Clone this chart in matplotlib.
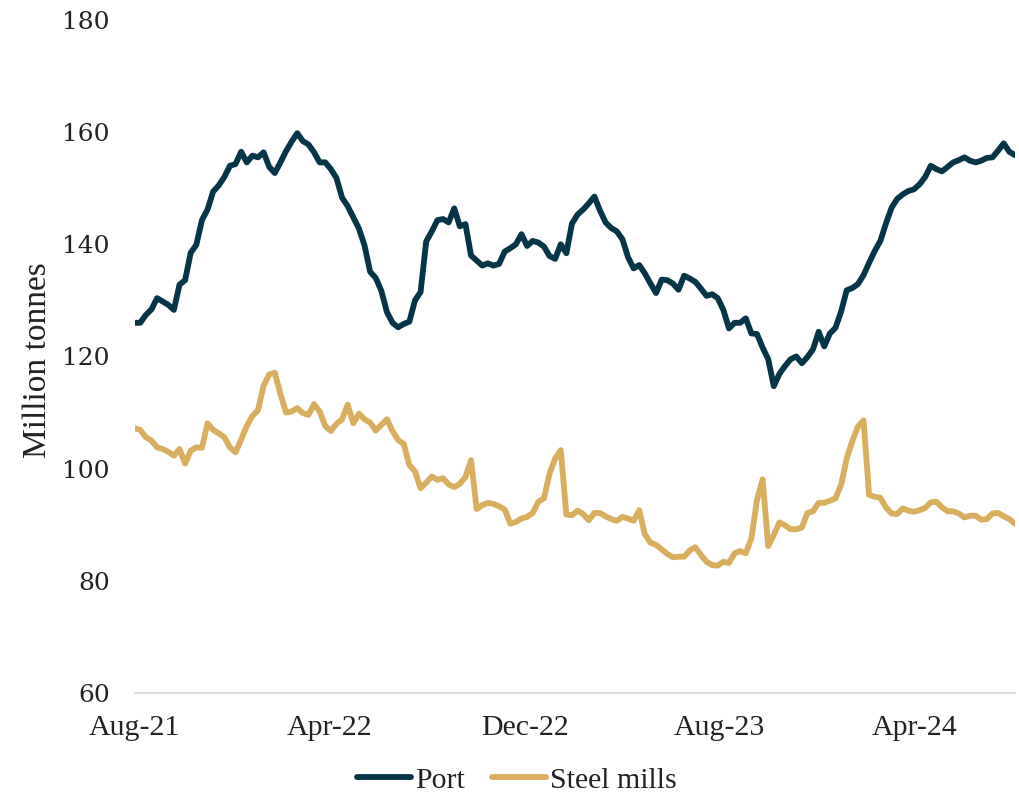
import matplotlib.pyplot as plt
import matplotlib.dates as mdates
import pandas as pd

# Datos semanales (millones de toneladas)
fechas = pd.date_range('2021-08-01', periods=158, freq='W-SUN')

puerto = [
    126.0, 126.0, 127.4, 128.4, 130.4, 129.8, 129.2, 128.3, 132.8, 133.6,
    138.5, 139.9, 144.3, 146.2, 149.4, 150.5, 152.0, 154.0, 154.3, 156.5,
    154.6, 155.8, 155.5, 156.4, 153.8, 152.7, 154.6, 156.6, 158.3, 159.8,
    158.4, 157.8, 156.4, 154.6, 154.6, 153.4, 151.8, 148.3, 146.8, 144.8,
    142.8, 139.8, 135.1, 134.0, 131.7, 127.9, 126.0, 125.2, 125.8, 126.2,
    130.0, 131.5, 140.5, 142.3, 144.3, 144.5, 143.9, 146.4, 143.2, 143.6,
    138.0, 137.1, 136.2, 136.6, 136.2, 136.5, 138.7, 139.3, 140.0, 141.8,
    139.7, 140.6, 140.3, 139.6, 137.9, 137.4, 140.0, 138.4, 143.7, 145.3,
    146.2, 147.3, 148.5, 146.0, 143.9, 142.9, 142.3, 140.9, 137.7, 135.7,
    136.3, 134.8, 133.0, 131.3, 133.7, 133.6, 133.0, 131.9, 134.4, 133.9,
    133.3, 132.1, 130.8, 131.1, 130.4, 128.3, 125.0, 126.0, 126.0, 126.8,
    124.1, 124.0, 121.6, 119.5, 114.7, 116.9, 118.3, 119.5, 120.0, 118.8,
    119.9, 121.3, 124.4, 121.8, 124.1, 125.1, 128.0, 131.8, 132.2, 132.9,
    134.5, 136.7, 138.8, 140.6, 143.7, 146.5, 148.1, 148.9, 149.5, 149.8,
    150.7, 152.0, 154.0, 153.4, 153.0, 153.8, 154.6, 155.0, 155.5, 154.9,
    154.6, 154.9, 155.4, 155.5, 156.7, 158.0, 156.5, 155.9,
]

acerias = [
    107.2, 106.9, 105.6, 105.0, 103.8, 103.5, 103.0, 102.3, 103.5, 100.9,
    103.2, 103.8, 103.7, 108.1, 106.9, 106.3, 105.6, 103.8, 102.9, 105.2,
    107.6, 109.4, 110.4, 114.8, 116.8, 117.1, 113.3, 110.0, 110.2, 110.8,
    109.9, 109.6, 111.5, 110.2, 107.6, 106.7, 108.0, 108.8, 111.4, 108.1,
    109.8, 108.8, 108.2, 106.8, 107.8, 108.8, 106.7, 105.1, 104.4, 100.6,
    99.5, 96.5, 97.5, 98.6, 98.0, 98.3, 97.2, 96.7, 97.3, 98.5,
    101.5, 92.8, 93.5, 93.9, 93.7, 93.3, 92.7, 90.2, 90.5, 91.1,
    91.4, 92.1, 94.1, 94.7, 99.1, 101.8, 103.3, 91.8, 91.7, 92.5,
    91.9, 90.8, 92.1, 92.1, 91.5, 91.0, 90.7, 91.4, 91.1, 90.7,
    92.6, 88.3, 86.8, 86.4, 85.6, 84.8, 84.2, 84.3, 84.3, 85.4,
    86.0, 84.6, 83.4, 82.8, 82.7, 83.4, 83.2, 84.9, 85.3, 84.9,
    87.6, 94.4, 98.1, 86.2, 88.2, 90.4, 89.9, 89.2, 89.2, 89.5,
    92.1, 92.4, 93.9, 93.9, 94.3, 94.7, 97.1, 101.8, 104.9, 107.5,
    108.6, 95.3, 95.0, 94.8, 93.1, 92.0, 91.9, 92.9, 92.5, 92.3,
    92.6, 93.0, 94.0, 94.1, 93.1, 92.4, 92.4, 92.0, 91.3, 91.6,
    91.6, 90.9, 91.0, 92.0, 92.1, 91.5, 91.0, 90.2,
]

marcas_x = pd.to_datetime(['2021-08-01', '2022-04-01', '2022-12-01',
                           '2023-08-01', '2024-04-01'])
etiquetas_x = ['Aug-21', 'Apr-22', 'Dec-22', 'Aug-23', 'Apr-24']
marcas_y = [60, 80, 100, 120, 140, 160, 180]

color_puerto = '#063547'
color_acerias = '#d9ae5f'
color_texto = '#222222'

fig = plt.figure(figsize=(10.2, 7.97), dpi=100)
ax = fig.add_axes([0.132, 0.1305, 0.863, 0.8445])

ax.plot(fechas, puerto, color=color_puerto, linewidth=4.2, label='Port',
        solid_joinstyle='round', solid_capstyle='round')
ax.plot(fechas, acerias, color=color_acerias, linewidth=4.2, label='Steel mills',
        solid_joinstyle='round', solid_capstyle='round')

ax.set_xlim(fechas[0], fechas[-1])
ax.set_ylim(60, 180)
ax.set_yticks(marcas_y)
ax.set_yticklabels([str(v) for v in marcas_y], family='DejaVu Serif',
                   fontsize=18, color=color_texto)
ax.set_xticks(marcas_x)
ax.set_xticklabels(etiquetas_x, family='Liberation Serif', fontsize=21.5,
                   color=color_texto)
ax.tick_params(axis='both', length=0)
ax.tick_params(axis='y', pad=18)
ax.tick_params(axis='x', pad=16)

for lado in ['top', 'right', 'left']:
    ax.spines[lado].set_visible(False)
ax.spines['bottom'].set_color('#d9d9d9')
ax.spines['bottom'].set_linewidth(1.3)

ax.set_ylabel('Million tonnes', family='Liberation Serif', fontsize=24,
              color=color_texto)
ax.yaxis.set_label_coords(-0.093, 0.495)

fig.legend(loc='lower center', ncol=2, frameon=False,
           bbox_to_anchor=(0.507, 0.004), borderpad=0, borderaxespad=0,
           prop={'family': 'Liberation Serif', 'size': 21.5},
           handlelength=1.8, handletextpad=0.15, columnspacing=0.9,
           labelcolor=color_texto)

plt.savefig('out.png', dpi=100)
